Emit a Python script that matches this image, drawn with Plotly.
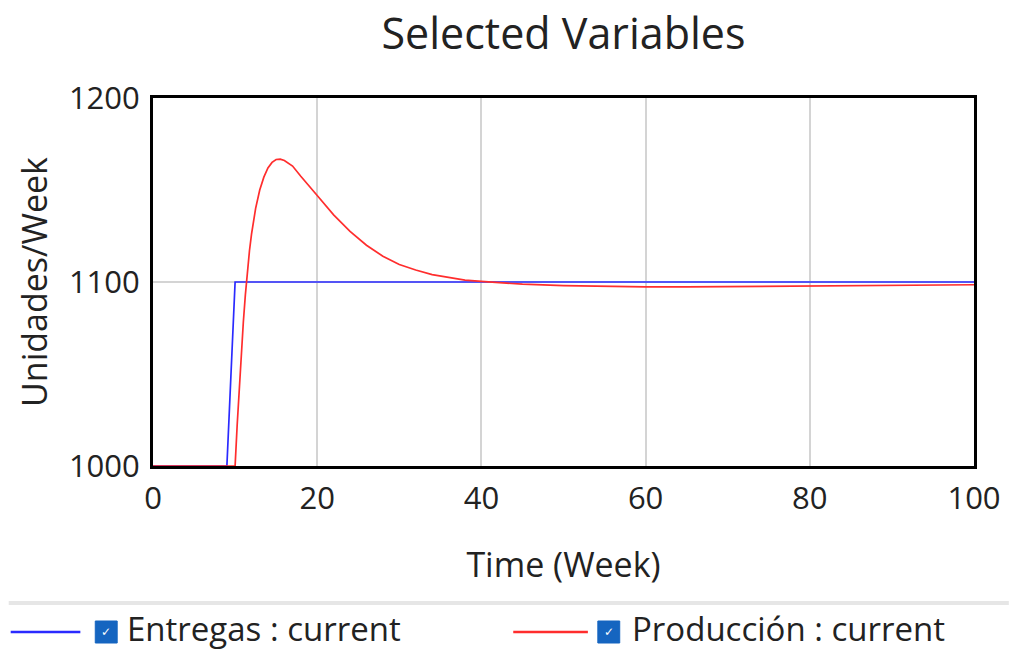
import plotly.graph_objects as go

# ---- data ----
entregas_t = [0, 9, 10, 100]
entregas_v = [1000, 1000, 1100, 1100]

produccion_t = [0, 10, 10.25, 10.5, 10.75, 11, 11.25, 11.5, 11.75, 12, 12.5, 13, 13.5, 14, 14.5, 15,
                15.5, 16, 17, 18, 19, 20, 22, 24, 26, 28, 30, 32, 34, 36, 38, 40, 42, 45, 50, 55,
                60, 65, 70, 80, 90, 100]
produccion_v = [1000, 1000, 1022, 1042, 1060, 1078, 1093, 1106, 1117, 1126, 1140, 1150, 1157, 1162,
                1165, 1166.6, 1166.8, 1166, 1163, 1157.5, 1152, 1147, 1136.5, 1127.5, 1120, 1114,
                1109.5, 1106.5, 1104, 1102.3, 1101, 1100.3, 1099.6, 1098.8, 1098, 1097.5, 1097.3,
                1097.3, 1097.5, 1097.8, 1098.2, 1098.5]

x_ticks = [0, 20, 40, 60, 80, 100]
y_ticks = [1000, 1100, 1200]
series_names = ["Entregas : current", "Producción : current"]
series_colors = ["#2a2aff", "#ff2d2d"]

W, H = 1013, 651
L, R, T, B = 153, 978, 98, 466
FONT = "Open Sans"
TXT = "#222222"

def px(x):
    return (x - L) / (R - L)

def py(y):
    return (B - y) / (B - T)

fig = go.Figure()
fig.add_trace(go.Scatter(x=entregas_t, y=entregas_v, mode="lines", name=series_names[0],
                         line=dict(color=series_colors[0], width=1.7), showlegend=False))
fig.add_trace(go.Scatter(x=produccion_t, y=produccion_v, mode="lines", name=series_names[1],
                         line=dict(color=series_colors[1], width=1.7), showlegend=False))

shapes = []
shapes.append(dict(type="line", xref="paper", yref="paper", x0=px(8), x1=px(1013), y0=py(603), y1=py(603),
                   line=dict(color="#e6e6e6", width=4)))
annotations = []
legend_items = [(10, 80, 95, 125), (515, 590, 600, 632)]
for (lx0, lx1, cbx, tx), name, col in zip(legend_items, series_names, series_colors):
    shapes.append(dict(type="line", xref="paper", yref="paper", x0=px(lx0), x1=px(lx1),
                       y0=py(632), y1=py(632), line=dict(color=col, width=2.5)))
    shapes.append(dict(type="rect", xref="paper", yref="paper", x0=px(cbx), x1=px(cbx + 22),
                       y0=py(621), y1=py(643), fillcolor="#1565c0", line=dict(color="#1565c0", width=1)))
    annotations.append(dict(text="✓", xref="paper", yref="paper", x=px(cbx + 11), y=py(632),
                            showarrow=False, font=dict(family="DejaVu Sans", size=12, color="white"),
                            xanchor="center", yanchor="middle"))
    annotations.append(dict(text=name, xref="paper", yref="paper", x=px(tx), y=py(628),
                            showarrow=False, font=dict(family=FONT, size=33, color=TXT),
                            xanchor="left", yanchor="middle"))

fig.update_layout(
    width=W, height=H, autosize=False,
    margin=dict(l=L, r=W - R, t=T, b=H - B, pad=0),
    paper_bgcolor="white", plot_bgcolor="white",
    title=dict(text="Selected Variables", x=0.5, xref="paper", xanchor="center",
               y=1 - 34 / H, yref="container", yanchor="middle",
               font=dict(family=FONT, size=43, color=TXT)),
    font=dict(family=FONT, color=TXT),
    xaxis=dict(range=[0, 100], tickvals=x_ticks, ticktext=[str(v) for v in x_ticks],
               showgrid=True, gridcolor="#d4d4d4", gridwidth=1.5, zeroline=False,
               showline=True, linecolor="black", linewidth=3, mirror=True, ticks="",
               ticklabelstandoff=3,
               tickfont=dict(family=FONT, size=31, color=TXT),
               title=dict(text="Time (Week)", font=dict(family=FONT, size=34, color=TXT), standoff=36)),
    yaxis=dict(range=[1000, 1200], tickvals=y_ticks, ticktext=[str(v) for v in y_ticks],
               showgrid=True, gridcolor="#d4d4d4", gridwidth=1.5, zeroline=False,
               showline=True, linecolor="black", linewidth=3, mirror=True, ticks="",
               ticklabelstandoff=4,
               tickfont=dict(family=FONT, size=31, color=TXT),
               title=dict(text="Unidades/Week", font=dict(family=FONT, size=34, color=TXT), standoff=11)),
    shapes=shapes, annotations=annotations, showlegend=False,
)

fig.write_html("out.html", config={"displayModeBar": False},
               post_script="document.body.style.margin='0';document.body.style.overflow='hidden';")
